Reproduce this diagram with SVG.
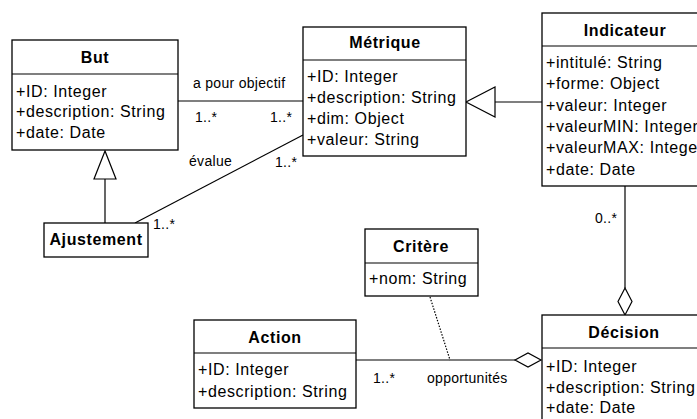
<svg xmlns="http://www.w3.org/2000/svg" width="697" height="419" viewBox="0 0 697 419">
<style>
.box{fill:#fff;stroke:#000;stroke-width:1.3}
.ln{fill:none;stroke:#000;stroke-width:1.2}
.tri{fill:#fff;stroke:#000;stroke-width:1.2}
.t{font-family:"Liberation Sans",Arial,sans-serif;font-size:16px;font-weight:bold;letter-spacing:0.6px;text-anchor:middle;fill:#000}
.a{font-family:"Liberation Sans",Arial,sans-serif;font-size:16px;letter-spacing:0.6px;fill:#000}
.l{font-family:"Liberation Sans",Arial,sans-serif;font-size:14px;letter-spacing:0.3px;fill:#000}
</style>
<rect width="697" height="419" fill="#fff"/>
<g id="connectors">
  <line class="ln" x1="178" y1="101" x2="303" y2="101"/>
  <line class="ln" x1="495" y1="102" x2="542" y2="102"/>
  <polygon class="tri" points="466,102 495,87 495,117"/>
  <line class="ln" x1="135" y1="223" x2="303" y2="135"/>
  <line class="ln" x1="105" y1="179" x2="105" y2="223"/>
  <polygon class="tri" points="105,151 94,179 116,179"/>
  <line class="ln" x1="625" y1="186" x2="625" y2="288"/>
  <polygon class="tri" points="625,288 632,301.5 625,315 618,301.5"/>
  <line class="ln" x1="356" y1="360" x2="515" y2="360"/>
  <polygon class="tri" points="515,360 528,353 541,360 528,367"/>
  <line class="ln" x1="430" y1="297" x2="450" y2="360" stroke-dasharray="1.5,1.5"/>
  <text class="l" x="193" y="88">a pour objectif</text>
  <text class="l" x="195" y="122">1..*</text>
  <text class="l" x="270" y="122">1..*</text>
  <text class="l" x="189" y="166">évalue</text>
  <text class="l" x="275" y="167">1..*</text>
  <text class="l" x="153" y="229">1..*</text>
  <text class="l" x="595" y="223">0..*</text>
  <text class="l" x="373" y="383">1..*</text>
  <text class="l" x="427" y="383">opportunités</text>
</g>
<g id="but">
  <rect class="box" x="12" y="40" width="166" height="110"/>
  <line class="ln" x1="12" y1="74" x2="178" y2="74"/>
  <text class="t" x="95" y="63">But</text>
  <text class="a" x="16" y="97">+ID: Integer</text>
  <text class="a" x="16" y="117">+description: String</text>
  <text class="a" x="16" y="138">+date: Date</text>
</g>
<g id="metrique">
  <rect class="box" x="303" y="27" width="163" height="129"/>
  <line class="ln" x1="303" y1="60" x2="466" y2="60"/>
  <text class="t" x="385" y="48">Métrique</text>
  <text class="a" x="307" y="82">+ID: Integer</text>
  <text class="a" x="307" y="103">+description: String</text>
  <text class="a" x="307" y="124">+dim: Object</text>
  <text class="a" x="307" y="145">+valeur: String</text>
</g>
<g id="indicateur">
  <rect class="box" x="542" y="13" width="168" height="173"/>
  <line class="ln" x1="542" y1="46" x2="710" y2="46"/>
  <text class="t" x="625" y="36">Indicateur</text>
  <text class="a" x="546" y="68">+intitulé: String</text>
  <text class="a" x="546" y="89">+forme: Object</text>
  <text class="a" x="546" y="111">+valeur: Integer</text>
  <text class="a" x="546" y="132">+valeurMIN: Integer</text>
  <text class="a" x="546" y="153">+valeurMAX: Integer</text>
  <text class="a" x="546" y="175">+date: Date</text>
</g>
<g id="ajustement">
  <rect class="box" x="44" y="223" width="104" height="34"/>
  <text class="t" x="96" y="245">Ajustement</text>
</g>
<g id="critere">
  <rect class="box" x="365" y="229" width="113" height="67"/>
  <line class="ln" x1="365" y1="263" x2="478" y2="263"/>
  <text class="t" x="421" y="252">Critère</text>
  <text class="a" x="369" y="284">+nom: String</text>
</g>
<g id="action">
  <rect class="box" x="194" y="320" width="162" height="88"/>
  <line class="ln" x1="194" y1="353" x2="356" y2="353"/>
  <text class="t" x="275" y="343">Action</text>
  <text class="a" x="198" y="375">+ID: Integer</text>
  <text class="a" x="198" y="397">+description: String</text>
</g>
<g id="decision">
  <rect class="box" x="542" y="315" width="168" height="110"/>
  <line class="ln" x1="542" y1="348" x2="710" y2="348"/>
  <text class="t" x="624" y="338">Décision</text>
  <text class="a" x="546" y="372">+ID: Integer</text>
  <text class="a" x="546" y="393">+description: String</text>
  <text class="a" x="546" y="413">+date: Date</text>
</g>
</svg>
